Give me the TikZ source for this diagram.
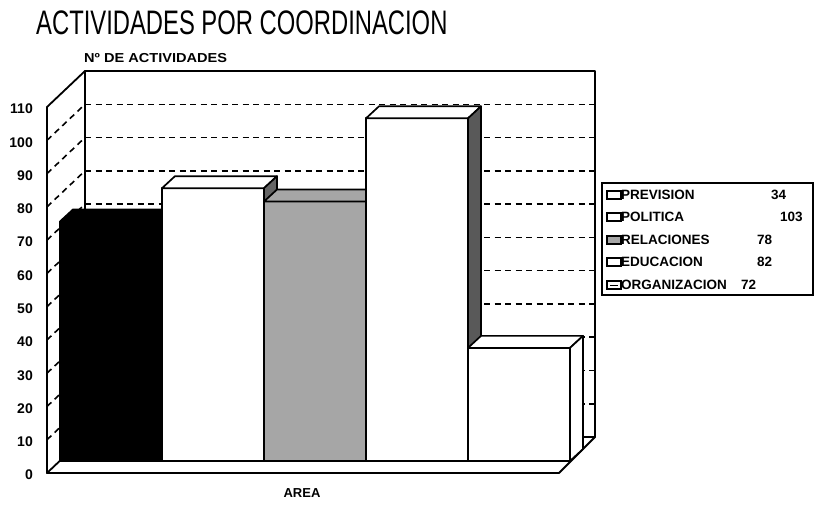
\documentclass[tikz,border=0pt]{standalone}
\usepackage{fontspec}
\setmainfont{Liberation Sans}
\newcommand\drawbar[5]{%
  \pgfmathsetmacro\yt{461-3.327*#2}%
  \fill[#3] (#1,461) rectangle ({#1+102},\yt);
  \draw[barline] (#1,461) rectangle ({#1+102},\yt);
  \filldraw[barline,fill=#4] (#1,\yt) -- ++(13,-12) -- ++(102,0) -- ++(-13,12) -- cycle;
  \filldraw[barline,fill=#5] ({#1+102},\yt) -- ++(13,-12) -- ({#1+115},449) -- ({#1+102},461) -- cycle;
}
\begin{document}
\begin{tikzpicture}[x=1pt,y=-1pt,
  wall/.style={line width=1.8pt,line cap=round,line join=round},
  gridline/.style={line width=1.6pt,dash pattern=on 6pt off 4.5pt},
  barline/.style={draw=black,line width=1.7pt,line join=round},
  ticklbl/.style={font=\bfseries\fontsize{14}{14}\selectfont,anchor=east,inner sep=0pt},
  leg/.style={font=\bfseries\fontsize{13.5}{13.5}\selectfont,anchor=west,inner sep=0pt},
  legicon/.style={draw=black,line width=1.3pt,fill=white}]
\useasboundingbox (0,0) rectangle (815,506);
% title
\node[anchor=west,inner sep=0pt] (title) at (36,23) {\scalebox{0.7}[1]{\fontsize{34}{34}\selectfont ACTIVIDADES POR COORDINACION}};
\node[anchor=west,inner sep=0pt] (ylab) at (84,58) {\scalebox{1.12}[1]{\bfseries\fontsize{13}{13}\selectfont Nº DE ACTIVIDADES}};
\node[inner sep=0pt,font=\bfseries\fontsize{13}{13}\selectfont] (xlab) at (302,493) {AREA};
% back wall gridlines and left wall diagonals
\foreach \v in {10,20,...,100}{
  \pgfmathsetmacro\yb{437-3.327*\v}
  \draw[gridline] (85,\yb) -- (595,\yb);
  \pgfmathsetmacro\yf{473-3.327*\v}
  \draw[gridline] (47,\yf) -- (85,\yb);
}
% walls and floor
\draw[wall] (47,473) -- (47,107) -- (85,71) -- (595,71) -- (595,437);
\draw[wall] (85,71) -- (85,437) -- (595,437);
\draw[wall] (47,473) -- (559,473) -- (595,437);
\draw[wall] (47,473) -- (85,437);
% tick labels
\foreach \v in {0,10,...,110}{
  \pgfmathsetmacro\yf{475-3.327*\v}
  \node[ticklbl] at (33,\yf) {\v};
}
% bars
\drawbar{60}{72}{black}{black}{black}
\drawbar{162}{82}{white}{white}{black!60}
\drawbar{264}{78}{black!35}{black!35}{black!60}
\drawbar{366}{103}{white}{white}{black!65}
\drawbar{468}{34}{white}{white}{white}
% legend
\draw[line width=1.4pt] (602,183) rectangle (813,295);
\foreach \y/\t/\n/\nx/\f in {195/PREVISION/34/771/white, 217/POLITICA/103/780/white, 240/RELACIONES/78/757/black!35, 262/EDUCACION/82/757/white, 285/ORGANIZACION/72/741/white}{
  \filldraw[legicon,fill=\f] (607,{\y-4}) rectangle (621,{\y+4});
  \node[leg] at (621,\y) {\t};
  \node[leg] at (\nx,\y) {\n};
}
\draw[line width=0.9pt] (610,285) -- (618,285);
\end{tikzpicture}
\end{document}
